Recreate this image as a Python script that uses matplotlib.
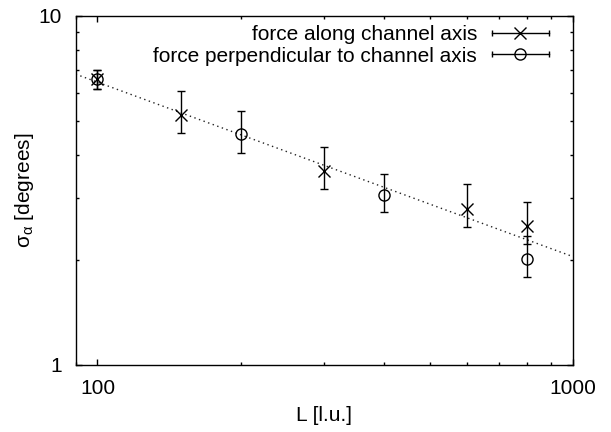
import numpy as np
import matplotlib
matplotlib.use("Agg")
import matplotlib.pyplot as plt
from matplotlib.lines import Line2D
from matplotlib.legend_handler import HandlerBase
from matplotlib.ticker import FuncFormatter, NullFormatter, LogLocator

plt.rcParams['font.family'] = ['Liberation Sans', 'DejaVu Sans']
plt.rcParams['mathtext.fontset'] = 'custom'
plt.rcParams['mathtext.rm'] = 'Liberation Sans'
plt.rcParams['mathtext.it'] = 'Liberation Sans'

# force along channel axis
L_along = [100, 150, 300, 600, 800]
sig_along = [6.6, 5.2, 3.6, 2.8, 2.5]
sig_along_hi = [7.0, 6.1, 4.2, 3.3, 2.93]
sig_along_lo = [6.15, 4.6, 3.18, 2.48, 2.22]

# force perpendicular to channel axis
L_perp = [100, 200, 400, 800]
sig_perp = [6.6, 4.57, 3.06, 2.01]
sig_perp_hi = [7.0, 5.34, 3.52, 2.34]
sig_perp_lo = [6.15, 4.03, 2.74, 1.78]

# power law fit  sigma = A * L^b
fit_amp = 64.5
fit_exp = -0.5
fit_range = [90, 1000]

FS = 15


class HandlerGnuplot(HandlerBase):
    # horizontal error bar with caps, marker in the middle
    def create_artists(self, legend, orig_handle, xdescent, ydescent,
                       width, height, fontsize, trans):
        x0 = -xdescent
        x1 = -xdescent + width
        ym = -ydescent + height / 2
        line = Line2D([x0, x1], [ym, ym], color='k', lw=1)
        caps = Line2D([x0, x1], [ym, ym], ls='none', marker='|',
                      ms=5, mew=1, color='k')
        mk = Line2D([(x0 + x1) / 2], [ym], ls='none',
                    marker=orig_handle.get_marker(),
                    ms=orig_handle.get_markersize(), mew=1,
                    mfc='none', mec='k')
        for a in (line, caps, mk):
            a.set_transform(trans)
        return [line, caps, mk]


fig = plt.figure(figsize=(6.11, 4.32), dpi=100)
ax = fig.add_axes([0.1239, 0.1558, 0.8139, 0.8079])

Lf = np.array(fit_range, dtype=float)
ax.plot(Lf, fit_amp * Lf ** fit_exp, color='#222222', lw=1.0,
        ls=(0, (1, 2.5)))

ya = np.array(sig_along)
ax.errorbar(L_along, ya,
            yerr=[ya - np.array(sig_along_lo), np.array(sig_along_hi) - ya],
            fmt='none', ecolor='k', elinewidth=1, capsize=3, capthick=1)
ax.plot(L_along, ya, ls='none', marker='x', ms=8, mew=1, color='k')

yp = np.array(sig_perp)
ax.errorbar(L_perp, yp,
            yerr=[yp - np.array(sig_perp_lo), np.array(sig_perp_hi) - yp],
            fmt='none', ecolor='k', elinewidth=1, capsize=3, capthick=1)
ax.plot(L_perp, yp, ls='none', marker='o', ms=8, mew=1, mfc='none',
        mec='k')

ax.set_xscale('log')
ax.set_yscale('log')
ax.set_xlim(90, 1000)
ax.set_ylim(1, 10)

fmt = FuncFormatter(lambda v, p: f'{v:g}')
ax.xaxis.set_major_formatter(fmt)
ax.yaxis.set_major_formatter(fmt)
ax.xaxis.set_minor_formatter(NullFormatter())
ax.yaxis.set_minor_formatter(NullFormatter())
ax.xaxis.set_minor_locator(LogLocator(base=10, subs=np.arange(2, 10)))
ax.yaxis.set_minor_locator(LogLocator(base=10, subs=np.arange(2, 10)))

ax.tick_params(which='both', direction='in', top=True, right=True,
               labelsize=FS, width=1)
ax.tick_params(which='major', length=4, pad=10)
ax.tick_params(which='minor', length=2.2)
for s in ax.spines.values():
    s.set_linewidth(1)

ax.set_xlabel('L [l.u.]', fontsize=FS, labelpad=6)
ax.set_ylabel(r'σ$_{\mathrm{α}}$ [degrees]', fontsize=FS, labelpad=2)

h1 = Line2D([], [], marker='x', ms=8)
h2 = Line2D([], [], marker='o', ms=8)
ax.legend([h1, h2],
          ['force along channel axis', 'force perpendicular to channel axis'],
          handler_map={Line2D: HandlerGnuplot()},
          loc='upper right', bbox_to_anchor=(0.9517, 0.972),
          frameon=False, markerfirst=False, fontsize=FS,
          borderpad=0, borderaxespad=0, handlelength=2.75,
          handletextpad=0.7, labelspacing=0.1)

fig.savefig('out.png', dpi=100)
